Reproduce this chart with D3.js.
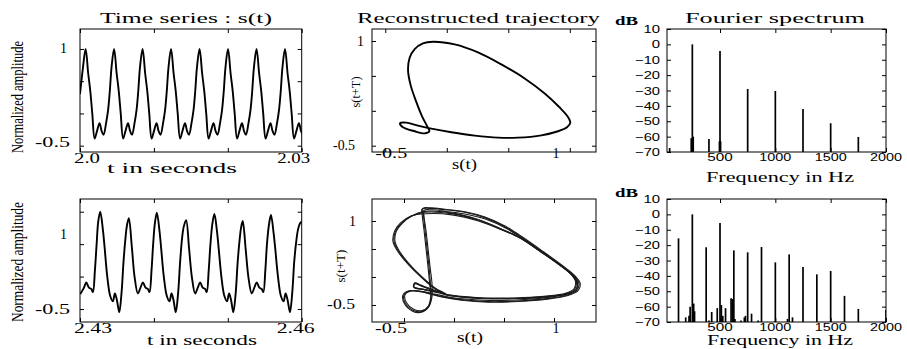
<!DOCTYPE html>
<html>
<head>
<meta charset="utf-8">
<script src="https://cdn.jsdelivr.net/npm/d3@7"></script>
<style>
  body { margin: 0; background: #fff; }
  svg { display: block; }
</style>
</head>
<body>
<script>
// ---- values ----
// time series: [ms after window start, normalized amplitude]
const tsTopStart = 2.0, tsBotStart = 2.43;
const tsTop = [
  [0,0.30],[0.41,0.72],
  [0.76,1],[1.11,0.62],[1.40,0.34],[1.66,0],[1.98,-0.39],[2.31,-0.27],[2.65,-0.15],[2.92,-0.27],[3.19,-0.33],[3.53,-0.15],[3.80,0.05],[4.03,0.34],[4.27,0.72],
  [4.61,1],[4.96,0.62],[5.25,0.34],[5.51,0],[5.83,-0.39],[6.16,-0.27],[6.50,-0.15],[6.77,-0.27],[7.04,-0.33],[7.38,-0.15],[7.65,0.05],[7.88,0.34],[8.12,0.72],
  [8.47,1],[8.82,0.62],[9.11,0.34],[9.37,0],[9.69,-0.39],[10.02,-0.27],[10.36,-0.15],[10.63,-0.27],[10.90,-0.33],[11.24,-0.15],[11.51,0.05],[11.74,0.34],[11.98,0.72],
  [12.32,1],[12.67,0.62],[12.96,0.34],[13.22,0],[13.54,-0.39],[13.87,-0.27],[14.21,-0.15],[14.48,-0.27],[14.75,-0.33],[15.09,-0.15],[15.36,0.05],[15.59,0.34],[15.83,0.72],
  [16.18,1],[16.53,0.62],[16.82,0.34],[17.08,0],[17.40,-0.39],[17.73,-0.27],[18.07,-0.15],[18.34,-0.27],[18.61,-0.33],[18.95,-0.15],[19.22,0.05],[19.45,0.34],[19.69,0.72],
  [20.03,1],[20.38,0.62],[20.67,0.34],[20.93,0],[21.25,-0.39],[21.58,-0.27],[21.92,-0.15],[22.19,-0.27],[22.46,-0.33],[22.80,-0.15],[23.07,0.05],[23.30,0.34],[23.54,0.72],
  [23.89,1],[24.24,0.62],[24.53,0.34],[24.79,0],[25.11,-0.39],[25.44,-0.27],[25.78,-0.15],[26.05,-0.27],[26.32,-0.33],[26.66,-0.15],[26.93,0.05],[27.16,0.34],[27.40,0.72],
  [27.74,1],[28.09,0.62],[28.38,0.34],[28.64,0],[28.96,-0.39],[29.29,-0.27],[29.63,-0.15],[29.90,-0.27],[30.17,-0.33]
];
const tsBot = [
  [0.04,-0.27],[0.54,-0.17],[0.85,-0.09],[1.21,-0.17],[1.53,-0.19],[1.75,-0.24],[2.02,0.10],[2.25,0.50],[2.47,0.85],
  [2.74,1.00],[3.10,0.72],[3.33,0.45],[3.69,0.00],[4.09,-0.30],[4.45,-0.38],[4.72,-0.26],[4.99,-0.36],[5.31,-0.55],[5.62,-0.25],[5.89,0.23],[6.16,0.60],[6.34,0.78],
  [6.61,0.90],[7.02,0.45],[7.38,0.00],[7.83,-0.26],[8.19,-0.17],[8.51,-0.09],[8.87,-0.17],[9.18,-0.19],[9.41,-0.24],[9.68,0.10],[9.90,0.50],[10.13,0.82],
  [10.40,0.985],[10.76,0.70],[10.98,0.44],[11.34,0.00],[11.75,-0.30],[12.11,-0.38],[12.38,-0.26],[12.65,-0.36],[12.96,-0.55],[13.28,-0.25],[13.55,0.23],[13.82,0.60],[14.04,0.77],
  [14.36,0.87],[14.77,0.42],[15.13,0.00],[15.58,-0.26],[15.94,-0.17],[16.25,-0.09],[16.61,-0.17],[16.93,-0.19],[17.15,-0.24],[17.42,0.10],[17.65,0.50],[17.92,0.82],
  [18.19,0.964],[18.55,0.68],[18.77,0.43],[19.13,0.00],[19.54,-0.30],[19.90,-0.38],[20.17,-0.26],[20.44,-0.36],[20.75,-0.55],[21.07,-0.25],[21.34,0.23],[21.61,0.58],[21.79,0.75],
  [22.02,0.856],[22.42,0.42],[22.78,0.00],[23.23,-0.26],[23.59,-0.17],[23.91,-0.09],[24.27,-0.17],[24.58,-0.19],[24.81,-0.24],[25.08,0.10],[25.30,0.50],[25.57,0.80],
  [25.84,0.95],[26.20,0.67],[26.43,0.42],[26.79,0.00],[27.19,-0.30],[27.55,-0.38],[27.82,-0.26],[28.09,-0.36],[28.41,-0.55],[28.72,-0.25],[28.99,0.23],[29.27,0.55],[29.49,0.72],[29.76,0.82],[30.03,0.85]
];

// reconstructed trajectories: [s(t), s(t+T)]
const trajTop = [
  [-0.112,0.99],[0.064,0.952],[0.254,0.837],[0.443,0.665],[0.633,0.464],[0.796,0.248],[0.918,0.047],[0.985,-0.087],
  [1.004,-0.169],[0.977,-0.236],[0.904,-0.293],[0.769,-0.351],[0.579,-0.384],[0.416,-0.384],[0.227,-0.355],[0.037,-0.307],
  [-0.126,-0.255],[-0.234,-0.212],[-0.329,-0.169],[-0.380,-0.178],[-0.356,-0.236],[-0.261,-0.293],[-0.175,-0.322],[-0.142,-0.293],
  [-0.158,-0.226],[-0.199,-0.087],[-0.248,0.128],[-0.294,0.368],[-0.315,0.583],[-0.302,0.760],[-0.261,0.885],[-0.194,0.967]
];
const trajBotA1 = [
  [-0.243,-0.131],[-0.26,0.184],[-0.28,0.512],[-0.30,0.839],[-0.317,1.095],[-0.32,1.214],[-0.243,1.226],[-0.093,1.202],
  [0.107,1.155],[0.307,1.06],[0.507,0.899],[0.69,0.69],[0.89,0.44],[1.073,0.202],[1.2,0.018],[1.25,-0.113],
  [1.227,-0.238],[1.133,-0.321],[0.923,-0.387],[0.64,-0.429],[0.34,-0.44],[0.073,-0.405],[-0.11,-0.351],[-0.227,-0.304],
  [-0.327,-0.262],[-0.443,-0.25],[-0.5,-0.321],[-0.487,-0.47],[-0.41,-0.595],[-0.327,-0.619],[-0.26,-0.53],[-0.233,-0.351]
];
const trajBotA2 = [
  [-0.22,-0.12],[-0.24,0.19],[-0.26,0.51],[-0.28,0.83],[-0.30,1.08],[-0.30,1.19],[-0.22,1.20],[-0.08,1.17],
  [0.12,1.12],[0.32,1.03],[0.52,0.87],[0.70,0.67],[0.90,0.42],[1.08,0.19],[1.19,0.01],[1.235,-0.11],
  [1.215,-0.23],[1.12,-0.31],[0.91,-0.37],[0.63,-0.41],[0.34,-0.42],[0.08,-0.39],[-0.10,-0.34],[-0.21,-0.30],
  [-0.31,-0.26],[-0.43,-0.25],[-0.49,-0.32],[-0.475,-0.46],[-0.40,-0.58],[-0.32,-0.60],[-0.25,-0.52],[-0.22,-0.35]
];
const trajBotA3 = [
  [-0.235,-0.14],[-0.25,0.18],[-0.27,0.51],[-0.29,0.84],[-0.305,1.10],[-0.31,1.225],[-0.235,1.235],[-0.09,1.21],
  [0.11,1.165],[0.31,1.07],[0.51,0.91],[0.695,0.70],[0.895,0.45],[1.08,0.21],[1.21,0.02],[1.262,-0.115],
  [1.24,-0.245],[1.14,-0.33],[0.93,-0.395],[0.645,-0.437],[0.345,-0.45],[0.075,-0.415],[-0.11,-0.36],[-0.225,-0.31],
  [-0.325,-0.265],[-0.45,-0.245],[-0.51,-0.32],[-0.495,-0.48],[-0.415,-0.61],[-0.325,-0.63],[-0.255,-0.54],[-0.23,-0.36]
];
const trajBotB1 = [
  [-0.293,1.155],[-0.027,1.131],[0.24,1.018],[0.473,0.851],[0.657,0.702],[0.857,0.464],[1.057,0.214],[1.18,0.036],
  [1.223,-0.083],[1.207,-0.214],[1.123,-0.298],[0.907,-0.351],[0.607,-0.381],[0.307,-0.381],[0.073,-0.351],[-0.077,-0.315],
  [-0.21,-0.232],[-0.327,-0.155],[-0.393,-0.113],[-0.40,-0.179],[-0.293,-0.226],[-0.143,-0.28],[-0.077,-0.31],[-0.177,-0.22],
  [-0.327,0.006],[-0.46,0.244],[-0.553,0.452],[-0.60,0.631],[-0.587,0.81],[-0.527,0.958],[-0.427,1.083]
];
const trajBotB2 = [
  [-0.28,1.13],[-0.02,1.11],[0.245,1.00],[0.48,0.84],[0.665,0.69],[0.865,0.455],[1.065,0.205],[1.19,0.03],
  [1.235,-0.09],[1.22,-0.22],[1.135,-0.305],[0.915,-0.36],[0.61,-0.39],[0.30,-0.39],[0.07,-0.36],[-0.08,-0.32],
  [-0.21,-0.24],[-0.33,-0.16],[-0.39,-0.12],[-0.40,-0.185],[-0.29,-0.23],[-0.145,-0.285],[-0.075,-0.315],[-0.18,-0.225],
  [-0.33,0.0],[-0.465,0.24],[-0.56,0.45],[-0.61,0.63],[-0.595,0.815],[-0.535,0.965],[-0.43,1.09]
];
const trajBotB3 = [
  [-0.30,1.17],[-0.03,1.145],[0.235,1.03],[0.468,0.862],[0.65,0.712],[0.85,0.474],[1.05,0.222],[1.175,0.042],
  [1.215,-0.08],[1.2,-0.21],[1.115,-0.293],[0.90,-0.345],[0.60,-0.374],[0.30,-0.374],[0.07,-0.345],[-0.08,-0.31],
  [-0.21,-0.228],[-0.325,-0.15],[-0.39,-0.105],[-0.405,-0.175],[-0.295,-0.222],[-0.14,-0.276],[-0.075,-0.305],[-0.175,-0.215],
  [-0.325,0.01],[-0.455,0.25],[-0.545,0.458],[-0.59,0.636],[-0.578,0.812],[-0.52,0.955],[-0.424,1.09]
];

// Fourier spectra: frequency (Hz) and level (dB)
const specTopFreq = [45, 240, 250, 258, 400, 495, 500, 505, 750, 1000, 1250, 1500, 1750];
const specTopDb   = [-67.4, -61, 0, -60, -61.5, -63, -4.3, -63, -29, -30.3, -42, -51.3, -60.2];
const specBotFreq = [125, 190, 220, 230, 250, 262, 270, 375, 400, 425, 475, 500, 512, 525, 550, 600, 612, 625, 635,
                     690, 720, 730, 750, 785, 845, 875, 1000, 1110, 1125, 1155, 1250, 1375, 1500, 1625, 1750, 2000];
const specBotDb   = [-15.6, -67, -66, -60, 0, -58, -63, -21.4, -69, -63.5, -61, -5.6, -59, -66, -61, -54.6, -55, -23.4, -68,
                     -69, -67, -66, -24.7, -64.6, -69, -21.2, -31.2, -68, -26, -67, -34.2, -39, -36.8, -53, -61.5, -62.2];

// ticks
const tsTopTicks = [2.0, 2.01, 2.02, 2.03];
const tsBotTicks = [2.43, 2.44, 2.45, 2.46];
const ampTicks = [-0.5, 0, 0.5, 1];
const freqTicks = [500, 1000, 1500, 2000];
const dbTicks = [-70, -60, -50, -40, -30, -20, -10, 0, 10];
const dbLabels = ['\u221270', '\u221260', '\u221250', '\u221240', '\u221230', '\u221220', '\u221210', '0', '10'];

const W = 907, H = 349;
const serif = '"Liberation Serif", "DejaVu Serif", serif';
const sans = '"Liberation Sans", Arial, sans-serif';

const svg = d3.select('body').append('svg')
    .attr('width', W)
    .attr('height', H);

function txt(s, x, y, o = {}) {
  const t = svg.append('text')
      .attr('x', x).attr('y', y)
      .attr('font-family', o.font || serif)
      .attr('font-size', o.size || 14)
      .attr('text-anchor', o.anchor || 'middle')
      .attr('fill', '#000')
      .text(s);
  if (o.len) t.attr('textLength', o.len).attr('lengthAdjust', 'spacingAndGlyphs');
  if (o.weight) t.attr('font-weight', o.weight);
  if (o.rot) t.attr('transform', `rotate(-90,${x},${y})`);
  return t;
}

let clipN = 0;
// box with inward ticks on all four sides, returns a clipped group
function frame(x, y, xt, yt) {
  const [x0, x1] = x.range(), [yb, ytop] = y.range();
  const g = svg.append('g').attr('color', '#000');
  g.append('g').attr('transform', `translate(0,${yb})`)
    .call(d3.axisBottom(x).tickValues(xt).tickSize(-4).tickFormat(''));
  g.append('g').attr('transform', `translate(0,${ytop})`)
    .call(d3.axisTop(x).tickValues(xt).tickSize(-4).tickFormat(''));
  g.append('g').attr('transform', `translate(${x0},0)`)
    .call(d3.axisLeft(y).tickValues(yt).tickSize(-4).tickFormat(''));
  g.append('g').attr('transform', `translate(${x1},0)`)
    .call(d3.axisRight(y).tickValues(yt).tickSize(-4).tickFormat(''));
  g.selectAll('.domain').remove();
  g.append('rect')
    .attr('x', x0).attr('y', ytop)
    .attr('width', x1 - x0).attr('height', yb - ytop)
    .attr('fill', 'none').attr('stroke', '#000').attr('stroke-width', 1);
  const id = 'clip' + (clipN++);
  svg.append('clipPath').attr('id', id).append('rect')
    .attr('x', x0).attr('y', ytop).attr('width', x1 - x0).attr('height', yb - ytop);
  return svg.append('g').attr('clip-path', `url(#${id})`);
}

// ---- time series ----
function series(data, start, ticks, yDom, yRange) {
  const x = d3.scaleLinear().domain([ticks[0], ticks[3]]).range([80, 301.7]);
  const y = d3.scaleLinear().domain(yDom).range(yRange);
  const g = frame(x, y, ticks, ampTicks);
  const line = d3.line()
      .x(d => x(start + d[0] / 1000))
      .y(d => y(d[1]))
      .curve(d3.curveCatmullRom.alpha(0.5));
  g.append('path').attr('d', line(data))
    .attr('fill', 'none').attr('stroke', '#000').attr('stroke-width', 1.9);
  return {x, y};
}
const s1 = series(tsTop, tsTopStart, tsTopTicks, [-0.598, 1.31], [152, 29]);
const s2 = series(tsBot, tsBotStart, tsBotTicks, [-0.70, 1.196], [322, 199]);

txt('1', s1.x(2.0) - 13, s1.y(1) + 4, {anchor: 'end'});
txt('-0.5', s1.x(2.0) - 10, s1.y(-0.5) + 1, {anchor: 'end', len: 35});
txt('2.0', s1.x(2.0) + 7, 163, {len: 26});
txt('2.03', s1.x(2.03) - 8, 163, {len: 33});
txt('t in seconds', 172, 173, {size: 15, len: 130});

// the reference prints this "1" well below the 1-tick
txt('1', s2.x(2.43) - 13, 239, {anchor: 'end'});
txt('-0.5', s2.x(2.43) - 10, s2.y(-0.5) + 5, {anchor: 'end', len: 35});
txt('2.43', s2.x(2.43) + 13, 333, {len: 38});
txt('2.46', s2.x(2.46) - 6, 333, {len: 38});
txt('t in seconds', 202, 345, {size: 15, len: 110});

txt('Normalized amplitude', 23, 97, {size: 17, len: 112, rot: true});
txt('Normalized amplitude', 23, 262, {size: 17, len: 120, rot: true});

// ---- trajectories ----
function traj(loops, xDom, yDom, yRange, width, color) {
  const x = d3.scaleLinear().domain(xDom).range([372, 596]);
  const y = d3.scaleLinear().domain(yDom).range(yRange);
  const g = frame(x, y, ampTicks, ampTicks);
  const line = d3.line()
      .x(d => x(d[0]))
      .y(d => y(d[1]))
      .curve(d3.curveCatmullRomClosed.alpha(0.5));
  loops.forEach(l => {
    g.append('path').attr('d', line(l))
      .attr('fill', 'none').attr('stroke', color).attr('stroke-width', width);
  });
  return {x, y};
}
const t1 = traj([trajTop], [-0.608, 1.213], [-0.59, 1.172], [152, 29], 1.9, '#000');
const t2 = traj([trajBotA1, trajBotA2, trajBotA3, trajBotB1, trajBotB2, trajBotB3],
                [-0.82, 1.42], [-0.804, 1.393], [322, 199], 1.1, '#1a1a1a');

txt('-0.5', t1.x(-0.5) + 6, 158, {len: 32});
txt('1', 556, 158);
txt('1', 364, t1.y(1) + 5, {anchor: 'end'});
txt('-0.5', 355, t1.y(-0.5) + 4, {anchor: 'end', len: 22});
txt('s(t)', 464.5, 169, {len: 25});
txt('s(t+T)', 360, 92, {size: 12, len: 31, rot: true});

txt('-0.5', 391, 333, {len: 32});
txt('1', 556, 333);
txt('1', 356, t2.y(1) + 5, {anchor: 'end'});
txt('-0.5', 355, t2.y(-0.5) + 4, {anchor: 'end', len: 28});
txt('s(t)', 470, 342, {len: 26});
txt('s(t+T)', 345, 266, {size: 12, len: 33, rot: true});

// ---- spectra ----
function spectrum(freq, db, yRange, baseY, dbY) {
  const x = d3.scaleLinear().domain([21, 2000]).range([667, 886]);
  const y = d3.scaleLinear().domain([-70, 10]).range(yRange);
  const g = frame(x, y, freqTicks, dbTicks);
  g.selectAll('line.spec')
    .data(freq.map((f, i) => [f, db[i]]))
    .enter()
    .append('line')
    .attr('class', 'spec')
    .attr('x1', d => x(d[0])).attr('x2', d => x(d[0]))
    .attr('y1', y(-70)).attr('y2', d => y(d[1]))
    .attr('stroke', '#000').attr('stroke-width', 1.7);
  dbTicks.forEach((v, i) => {
    txt(dbLabels[i], 660, y(v) + 4, {font: sans, size: 11, anchor: 'end', len: dbLabels[i].length * 8.3});
  });
  freqTicks.forEach(v => {
    const s = String(v);
    txt(s, x(v), baseY, {font: sans, size: 11, len: 6 + s.length * 6.5});
  });
  txt('dB', 626.5, dbY, {size: 13, weight: 'bold', len: 23});
  return {x, y};
}
spectrum(specTopFreq, specTopDb, [152, 29], 161, 25);
spectrum(specBotFreq, specBotDb, [322, 199], 331, 197);
txt('Frequency in Hz', 780, 182, {size: 15, len: 148});
txt('Frequency in Hz', 780, 345, {size: 15, len: 146});

// ---- titles ----
txt('Time series : s(t)', 186, 23, {size: 15, len: 172});
txt('Reconstructed trajectory', 478.5, 23, {size: 15, len: 243});
txt('Fourier spectrum', 775, 23, {size: 15, len: 180});
</script>
</body>
</html>
